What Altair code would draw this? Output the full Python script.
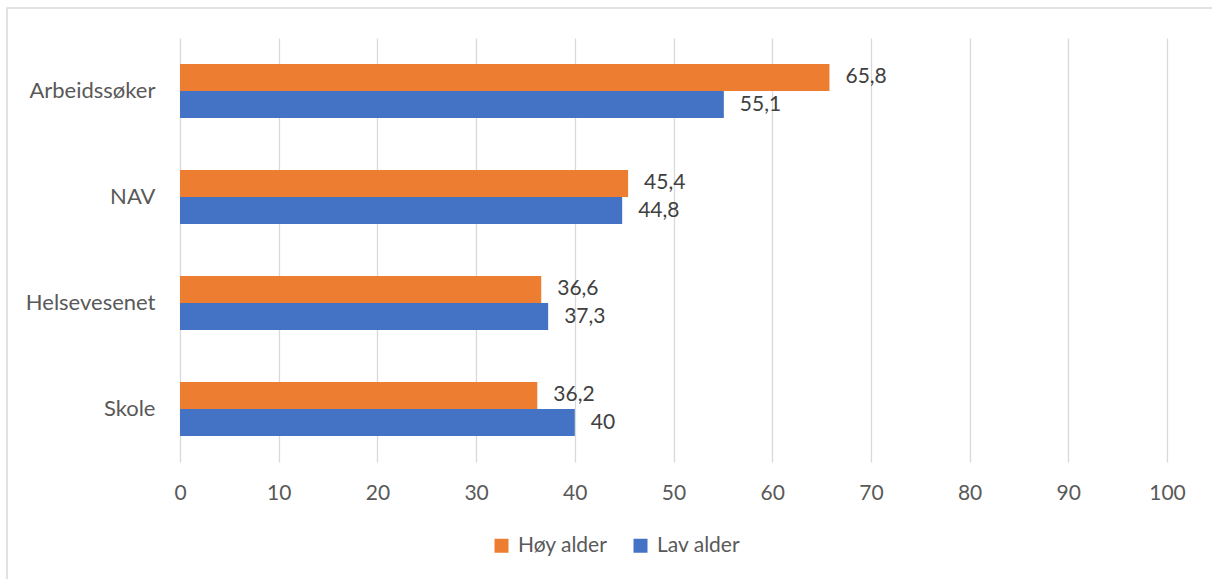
import altair as alt
import pandas as pd

# Categories (top to bottom) and the two age groups
categories = ["Arbeidssøker", "NAV", "Helsevesenet", "Skole"]
groups = ["Høy alder", "Lav alder"]
hoy_alder = [65.8, 45.4, 36.6, 36.2]
lav_alder = [55.1, 44.8, 37.3, 40.0]
x_ticks = [0, 10, 20, 30, 40, 50, 60, 70, 80, 90, 100]
colors = ["#ED7D31", "#4472C4"]

rows = []
for i, cat in enumerate(categories):
    rows.append({"kategori": cat, "gruppe": groups[0], "verdi": hoy_alder[i]})
    rows.append({"kategori": cat, "gruppe": groups[1], "verdi": lav_alder[i]})
df = pd.DataFrame(rows)

FONT = "Lato"

base = alt.Chart(df).encode(
    y=alt.Y(
        "kategori:N",
        sort=categories,
        title=None,
        scale=alt.Scale(paddingInner=0.49, paddingOuter=0.245),
        axis=alt.Axis(
            domain=False,
            ticks=False,
            grid=False,
            labelPadding=25,
            labelFontSize=22,
            labelColor="#595959",
            labelFont=FONT,
        ),
    ),
    yOffset=alt.YOffset("gruppe:N", sort=groups),
)

bars = base.mark_bar().encode(
    x=alt.X(
        "verdi:Q",
        title=None,
        scale=alt.Scale(domain=[0, 100], nice=False),
        axis=alt.Axis(
            values=x_ticks,
            domain=False,
            ticks=False,
            grid=True,
            gridColor="#D9D9D9",
            gridWidth=1.3,
            labelFlush=False,
            labelPadding=20,
            labelFontSize=21,
            labelColor="#595959",
            labelFont=FONT,
        ),
    ),
    color=alt.Color(
        "gruppe:N",
        sort=groups,
        scale=alt.Scale(domain=groups, range=colors),
        legend=alt.Legend(
            title=None,
            orient="none",
            legendX=311,
            legendY=497,
            direction="horizontal",
            symbolType="square",
            symbolSize=196,
            symbolStrokeWidth=0,
            labelFontSize=21,
            labelColor="#595959",
            labelFont=FONT,
            columnPadding=22,
            labelOffset=6,
        ),
    ),
)

labels = base.mark_text(
    align="left", baseline="middle", dx=16, fontSize=21, font=FONT, color="#404040"
).transform_calculate(
    etikett="replace(format(datum.verdi, '.1~f'), '.', ',')"
).encode(
    x=alt.X("verdi:Q"),
    text="etikett:N",
)

# Light outer frame around the whole chart
frame = alt.Chart(pd.DataFrame({"f": [0]})).mark_rect(
    fill=None, stroke="#D9D9D9", strokeWidth=1.5
).encode(
    x=alt.value(-173), x2=alt.value(1060), y=alt.value(-30), y2=alt.value(570)
)

chart = (
    alt.layer(frame, bars, labels)
    .properties(
        width=987,
        height=424,
        autosize=alt.AutoSizeParams(type="none"),
        padding={"left": 180, "top": 38, "right": 45, "bottom": 117},
        background="white",
    )
    .configure_view(stroke=None)
)

chart.save("out.html", embed_options={"renderer": "svg", "actions": False})
